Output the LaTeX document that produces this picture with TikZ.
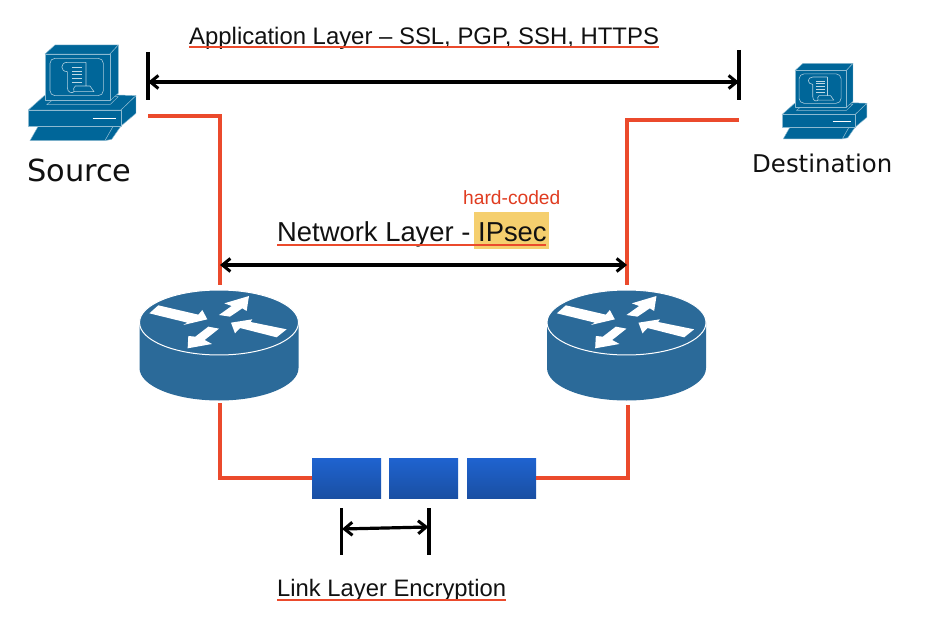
\documentclass[tikz,border=0pt]{standalone}
\usepackage{fontspec}
\setmainfont{Liberation Sans}
\newfontfamily\iconlabel{DejaVu Sans}
\usetikzlibrary{arrows.meta}
\definecolor{pcblue}{HTML}{006699}
\definecolor{rtblue}{HTML}{2B6A99}
\definecolor{redline}{HTML}{EB4A2C}
\definecolor{hardred}{HTML}{E03C20}
\definecolor{hilite}{HTML}{F5CF6E}
\definecolor{boxtop}{HTML}{1F63D0}
\definecolor{boxbot}{HTML}{1A4FA3}
\definecolor{inkline}{HTML}{111111}
\tikzset{
  redpath/.style={draw=redline,line width=3.6pt,line join=miter},
  redunder/.style={draw=redline,line width=2.2pt},
  dim/.style={draw=black,line width=3.2pt,{Straight Barb[length=8pt,width=13pt,line width=3pt]}-{Straight Barb[length=8pt,width=13pt,line width=3pt]}},
  bar/.style={draw=black,line width=3.6pt},
  pcface/.style={fill=pcblue,draw=white!55!pcblue,line width=0.45pt,line join=round},
  lbl/.style={inner sep=0pt,anchor=base west,text=inkline},
  slot/.style={inner sep=0pt,minimum width=69pt,minimum height=40pt,draw=none,
    top color=boxtop,bottom color=boxbot},
  anchorbox/.style={inner sep=0pt,draw=none,fill=none,minimum width=159pt,minimum height=111pt},
  rtarrow/.style={fill=white,draw=none}
}
\newcommand{\pcicon}[3]{%
 \begin{scope}[shift={(#1,#2)},scale=#3]
  \filldraw[pcface] (60,332)--(85,288)--(310,288)--(285,332)--cycle;
  \filldraw[pcface] (285,332)--(310,288)--(333,288)--(305,328)--cycle;
  \filldraw[pcface] (55,240)--(103,197)--(325,195)--(378,197)--(333,240)--cycle;
  \filldraw[pcface] (333,240)--(378,197)--(378,250)--(333,288)--cycle;
  \filldraw[pcface] (55,240)--(333,240)--(333,288)--(55,288)--cycle;
  \draw[white,line width=1pt] (248,266)--(318,266);
  \filldraw[pcface] (110,224)--(300,224)--(325,200)--(140,200)--cycle;
  \filldraw[pcface] (105,72)--(135,45)--(325,45)--(300,72)--cycle;
  \filldraw[pcface] (300,72)--(325,45)--(325,190)--(300,212)--cycle;
  \filldraw[pcface] (105,72)--(300,72)--(300,212)--(105,212)--cycle;
  \draw[white!65!pcblue,line width=0.6pt,rounded corners=5pt] (120,85) rectangle (280,197);
  \draw[white!70!pcblue,line width=0.6pt,line join=round]
    (228,97)--(172,97) .. controls (150,97) and (150,125) .. (172,125)--(172,172)
    .. controls (172,190) and (188,190) .. (192,185)--(252,185)--(240,168)--(196,168)
    .. controls (190,170) and (190,180) .. (192,185)
    (228,97)--(228,168);
  \foreach \yy in {112,123,134,145,156}{\draw[white!75!pcblue,line width=0.8pt] (186,\yy)--(217,\yy);}
 \end{scope}}
\begin{document}
\begin{tikzpicture}[x=1pt,y=-1pt]
\useasboundingbox (0,0) rectangle (932,628);
\fill[white] (0,0) rectangle (932,628);

% highlight
\fill[hilite] (474,212) rectangle (549,249);

% icons
\pcicon{10}{30}{0.3333}
\pcicon{767.5}{51.5}{0.263}
\node[inner sep=0pt,minimum width=108pt,minimum height=97pt] (srcpc) at (83,92) {};
\node[inner sep=0pt,minimum width=85pt,minimum height=77pt] (dstpc) at (817,102) {};

% routers
\node[anchorbox] (rtA) at (219,345.5) {};
\node[anchorbox] (rtB) at (626.5,345.5) {};
\foreach \cx/\cy in {219/322.5,626.5/322.5}{
  \begin{scope}[shift={(\cx,\cy)}]
   \fill[rtblue] (-79.5,0)--(-79.5,45.5) .. controls (-79.5,63.5) and (-44,78) .. (0,78)
      .. controls (44,78) and (79.5,63.5) .. (79.5,45.5)--(79.5,0)--cycle;
   \filldraw[fill=rtblue,draw=white,line width=1pt] (0,0) ellipse[x radius=79.5,y radius=32.5];
   \begin{scope}[shift={(-99,-42.5)},scale=0.3333]
    \fill[rtarrow] (88,100)--(115,76)--(235,104)--(247,90)--(262,118)--(190,135)--(202,128)--cycle;
    \fill[rtarrow] (387,48)--(313,70)--(335,78)--(297,105)--(330,110)--(367,85)--(380,93)--cycle;
    \fill[rtarrow] (333,128)--(345,160)--(360,144)--(470,172)--(500,148)--(392,126)--(397,118)--cycle;
    \fill[rtarrow] (203,205)--(276,192)--(254,180)--(297,146)--(265,140)--(226,170)--(205,168)--cycle;
   \end{scope}
  \end{scope}
}

% slots
\node[slot] (box1) at (346.5,478) {};
\node[slot] (box2) at (423.5,478) {};
\node[slot] (box3) at (501.5,478) {};

% red connectors
\coordinate (srcEnd) at (148,116);
\coordinate (dstEnd) at (739,120);
\coordinate (rtAtop) at (220,285);
\coordinate (rtBtop) at (627,285);
\coordinate (rtAbot) at (220,403);
\coordinate (rtBbot) at (628,405);
\draw[redpath] (srcEnd) -| (rtAtop);
\draw[redpath] (dstEnd) -| (rtBtop);
\draw[redpath] (rtAbot) |- (box1.west);
\draw[redpath] (rtBbot) |- (box3.east);

% top dimension
\coordinate (a1) at (148,52); \coordinate (a2) at (148,100);
\coordinate (b1) at (739,50); \coordinate (b2) at (739,100);
\coordinate (aM) at (148,82); \coordinate (bM) at (739,82);
\draw[bar] (a1)--(a2);
\draw[bar] (b1)--(b2);
\draw[dim] (aM)--(bM);

% network arrow
\coordinate (nL) at (220,265); \coordinate (nR) at (627,265);
\draw[dim] (nL)--(nR);

% link dimension
\coordinate (c1) at (341.5,508); \coordinate (c2) at (341.5,555);
\coordinate (d1) at (429,508); \coordinate (d2) at (429,555);
\coordinate (cM) at (342,529); \coordinate (dM) at (428.5,527);
\draw[bar] (c1)--(c2);
\draw[bar] (d1)--(d2);
\draw[dim] (cM)--(dM);

% labels
\node[lbl,font=\fontsize{23.9}{26}\selectfont] (appl) at (189,44.5) {Application Layer – SSL, PGP, SSH, HTTPS};
\node[lbl,font=\fontsize{27.4}{30}\selectfont] (netl) at (277,241.5) {Network Layer - IPsec};
\node[lbl,font=\fontsize{19.2}{21}\selectfont,text=hardred] (hard) at (463,204.5) {hard-coded};
\node[lbl,font=\fontsize{23.8}{26}\selectfont] (linkl) at (277,596) {Link Layer Encryption};
\node[lbl,font=\fontsize{30.4}{34}\iconlabel] (srcl) at (27,182) {Source};
\node[lbl,font=\fontsize{24.4}{27}\iconlabel] (dstl) at (752,172.5) {Destination};

% underlines
\coordinate (u1a) at (189,47); \coordinate (u1b) at (659,47);
\coordinate (u2a) at (277,245); \coordinate (u2b) at (546,245);
\coordinate (u3a) at (277,600); \coordinate (u3b) at (506,600);
\draw[redunder] (u1a)--(u1b);
\draw[redunder] (u2a)--(u2b);
\draw[redunder] (u3a)--(u3b);
\end{tikzpicture}
\end{document}
